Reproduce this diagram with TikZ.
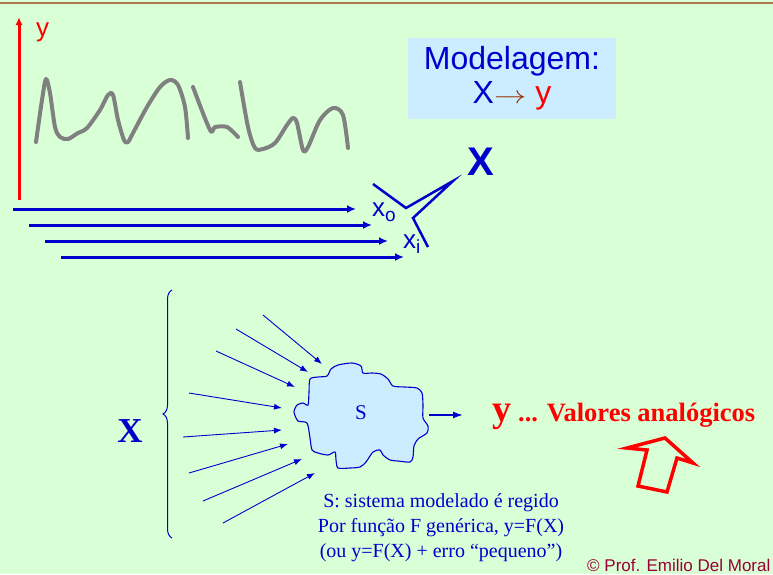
\documentclass[tikz,border=0pt]{standalone}
\usepackage{fontspec}
\setmainfont{Liberation Serif}
\setsansfont{Liberation Sans}
\usetikzlibrary{arrows.meta,positioning,decorations.pathreplacing}
\definecolor{slidebg}{RGB}{217,255,215}
\definecolor{boxblue}{RGB}{204,236,255}
\definecolor{darkblue}{RGB}{0,0,204}
\definecolor{curvegray}{RGB}{128,128,128}
\definecolor{arrowbrown}{RGB}{153,51,0}
\definecolor{copyred}{RGB}{153,0,51}
\definecolor{rulebrown}{RGB}{170,120,80}

\begin{document}
\begin{tikzpicture}[x=1pt, y=-1pt,
  bigarrow/.style={-{Latex[length=9pt,width=8pt]}, line width=3pt, darkblue},
  inarrow/.style={-{Latex[length=8pt,width=6pt]}, line width=0.9pt, darkblue},
  sans/.style={font=\sffamily\fontsize{#1}{#1}\selectfont},
  serif/.style={font=\rmfamily\fontsize{#1}{#1}\selectfont},
  squiggle/.style={curvegray, line width=4pt, line cap=round, line join=round}
]
\useasboundingbox[fill=slidebg] (0,0) rectangle (773,574);
\draw[rulebrown, line width=1.2pt] (0,3) -- (773,3);

% signal y(t) and the inputs x_o ... x_i
\coordinate (yfoot) at (19,200);
\coordinate (ytop) at (19,17);
\draw[red, line width=3pt, -{Latex[length=8pt,width=7pt]}] (yfoot) -- (ytop);
\node[sans=26, red, anchor=base west, inner sep=0] (ylab) at (36,36) {y};

\draw[squiggle] plot[smooth, tension=0.5] coordinates {(36,142) (42,100) (46,79) (50,93) (55,127) (60,137) (68,139) (78,133) (87,128) (100,110) (108,95) (113,95) (118,120) (124,140) (128,142) (133,133) (147,107) (160,87) (170,80) (178,85) (185,107) (188,138)};
\draw[squiggle] plot[smooth, tension=0.5] coordinates {(193,87) (210,130) (215,127) (227,127) (238,137)};
\draw[squiggle] plot[smooth, tension=0.5] coordinates {(240,82) (248,127) (255,148) (263,149) (275,143) (287,125) (293,118) (297,123) (303,150) (308,147) (320,120) (333,108) (343,115) (348,148)};

\foreach \i in {0,...,3}
  \draw[bigarrow] ({13+16*\i},{209+16*\i}) coordinate (xs\i) -- ({356+16*\i},{209+16*\i}) coordinate (xe\i);

\node[sans=26, darkblue, anchor=base west, inner sep=0] (xo) at (372,216) {x\raisebox{-5pt}{\fontsize{19}{19}\selectfont o}};
\node[sans=26, darkblue, anchor=base west, inner sep=0] (xi) at (403,248) {x\raisebox{-5pt}{\fontsize{19}{19}\selectfont i}};
\draw[darkblue, line width=2.5pt] (373,184) -- (406,208) -- (453,181) -- (413,218) -- (428,247);
\node[darkblue, font=\sffamily\bfseries\fontsize{40}{40}\selectfont] (Xtop) at (481,162) {X};

% model box
\node[fill=boxblue, minimum width=208pt, minimum height=81pt, inner sep=0, align=center,
  font=\sffamily\fontsize{32}{34}\selectfont, text=darkblue] (model) at (512,78)
  {Modelagem:\\X{\color{arrowbrown}\scalebox{1.3}[1]{$\rightarrow$}} {\color{red}y}};

% system S
\node[font=\rmfamily\bfseries\fontsize{35}{35}\selectfont, text=darkblue] (Xin) at (130,431) {X};
\draw[darkblue, line width=1pt, decorate, decoration={brace, amplitude=9pt}] (172,538) -- (172,290);

\foreach \sx/\sy/\ex/\ey in {263/315/322/364, 236/329/308/372, 216/351/295/387, 189/393/282/408,
    183/437/282/430, 189/473/288/444, 203/501/302/459, 223/523/315/473}
  \draw[inarrow] (\sx,\sy) -- (\ex,\ey);

\draw[darkblue, line width=1.1pt, fill=boxblue] plot[smooth cycle, tension=0.45] coordinates {
  (310,379) (318,377) (327,376) (331,369) (338,365) (352,363) (361,366) (363,373) (372,373)
  (381,374) (388,379) (393,386) (405,387) (417,388) (422,393) (423,405) (423,418) (428,426)
  (427,433) (418,439) (414,446) (413,457) (410,462) (398,461) (390,460) (383,455) (380,450)
  (373,452) (366,462) (360,467) (350,468) (338,468) (336,460) (335,452) (328,455) (318,453)
  (312,450) (310,438) (307,423) (298,421) (294,412) (297,405) (303,403) (308,405) (309,392)};
\node[serif=21, text=darkblue] (S) at (361,413) {S};

\coordinate (sout) at (429,415);
\node[font=\rmfamily\bfseries, text=red, anchor=base west, inner sep=0] (yval) at (492,421)
  {{\fontsize{38}{38}\selectfont y}\hspace{7pt}{\fontsize{26.5}{26.5}\selectfont ... Valores analógicos}};
\draw[-{Latex[length=10pt,width=7pt]}, line width=1.5pt, darkblue, shorten >=29pt] (sout) -- (yval.west |- sout);

\draw[red, line width=3.5pt, line join=miter] (665,438) -- (693,463) -- (677,458) -- (667,492)
  -- (638,486) -- (647,450) -- (627,448) -- cycle;

\node[text=darkblue, align=center, font=\rmfamily\fontsize{20}{25}\selectfont] (caption) at (441,528)
  {S: sistema modelado é regido\\Por função F genérica, y=F(X)\\(ou y=F(X) + erro “pequeno”)};

\node[sans=17, text=copyred, anchor=base west, inner sep=0] (copy) at (587,571) {© Prof. Emilio Del Moral};
\end{tikzpicture}
\end{document}
